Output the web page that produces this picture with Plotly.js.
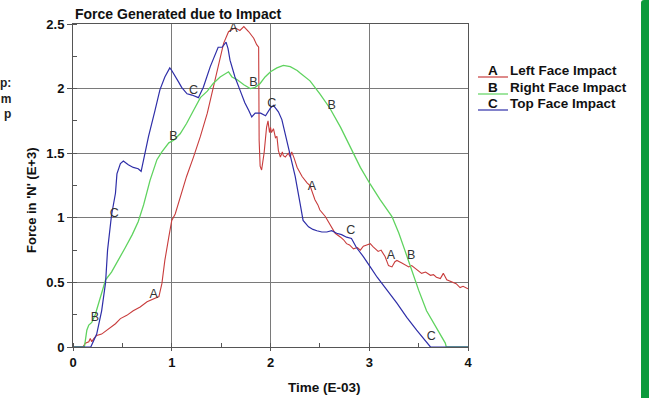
<!DOCTYPE html>
<html>
<head>
<meta charset="utf-8">
<script src="https://cdn.plot.ly/plotly-3.0.1.min.js"></script>
<style>
  html, body { margin: 0; padding: 0; background: #ffffff; }
  #wrap { position: relative; width: 649px; height: 398px; overflow: hidden; }
  #chart { width: 649px; height: 398px; }
  #bar { position: absolute; left: 641px; top: 0; width: 8px; height: 398px; background: #0b9a3c; border-top-left-radius: 3px; }
</style>
</head>
<body>
<div id="wrap"><div id="chart"></div><div id="bar"></div></div>
<script>
// ---- Data ----
const seriesNames = ["Left Face Impact", "Right Face Impact", "Top Face Impact"];
const seriesTags = ["A", "B", "C"];

// A: Left Face Impact (red)
const tA = [0, 0.10, 0.125, 0.16, 0.175, 0.19, 0.21, 0.24, 0.29, 0.345, 0.39, 0.43, 0.48, 0.545, 0.61, 0.68, 0.75, 0.83, 0.87, 0.90, 0.93, 0.97, 1.0, 1.035, 1.085, 1.15, 1.22, 1.29, 1.36, 1.42, 1.47, 1.525, 1.575, 1.64, 1.69, 1.73, 1.78, 1.83, 1.86, 1.88, 1.885, 1.895, 1.91, 1.935, 1.96, 1.975, 1.99, 2.0, 2.01, 2.03, 2.05, 2.065, 2.08, 2.10, 2.12, 2.13, 2.15, 2.18, 2.20, 2.215, 2.24, 2.27, 2.32, 2.37, 2.40, 2.42, 2.45, 2.48, 2.50, 2.555, 2.60, 2.63, 2.655, 2.71, 2.74, 2.77, 2.80, 2.84, 2.88, 2.91, 2.94, 2.975, 3.01, 3.04, 3.09, 3.12, 3.16, 3.195, 3.23, 3.26, 3.28, 3.33, 3.37, 3.40, 3.43, 3.465, 3.50, 3.53, 3.57, 3.62, 3.65, 3.68, 3.72, 3.75, 3.785, 3.82, 3.85, 3.88, 3.92, 3.95, 4.0];
const fA = [0, 0, 0.03, 0.04, 0.065, 0.04, 0.065, 0.09, 0.10, 0.13, 0.155, 0.18, 0.22, 0.245, 0.28, 0.31, 0.35, 0.375, 0.39, 0.49, 0.67, 0.85, 0.98, 1.03, 1.16, 1.32, 1.47, 1.63, 1.81, 2.01, 2.18, 2.35, 2.44, 2.47, 2.45, 2.48, 2.44, 2.39, 2.34, 2.32, 1.60, 1.40, 1.37, 1.50, 1.70, 1.75, 1.66, 1.70, 1.66, 1.69, 1.62, 1.63, 1.52, 1.47, 1.51, 1.48, 1.47, 1.50, 1.47, 1.51, 1.46, 1.39, 1.32, 1.27, 1.25, 1.21, 1.14, 1.10, 1.06, 1.01, 0.95, 0.92, 0.88, 0.85, 0.83, 0.80, 0.79, 0.76, 0.77, 0.75, 0.78, 0.79, 0.80, 0.775, 0.74, 0.75, 0.70, 0.63, 0.62, 0.66, 0.67, 0.65, 0.63, 0.62, 0.63, 0.61, 0.59, 0.57, 0.58, 0.555, 0.56, 0.54, 0.53, 0.57, 0.52, 0.51, 0.50, 0.49, 0.46, 0.47, 0.45];

// B: Right Face Impact (green)
const tB = [0, 0.115, 0.125, 0.14, 0.16, 0.19, 0.225, 0.26, 0.29, 0.33, 0.39, 0.46, 0.53, 0.60, 0.66, 0.715, 0.78, 0.85, 0.90, 0.97, 1.02, 1.085, 1.15, 1.22, 1.29, 1.36, 1.42, 1.49, 1.575, 1.61, 1.66, 1.73, 1.795, 1.845, 1.895, 1.945, 2.0, 2.065, 2.13, 2.2, 2.27, 2.30, 2.40, 2.50, 2.60, 2.71, 2.81, 2.91, 3.01, 3.11, 3.23, 3.30, 3.36, 3.43, 3.50, 3.58, 3.68, 3.77, 3.78, 4.0];
const fB = [0, 0, 0.05, 0.13, 0.17, 0.19, 0.25, 0.34, 0.43, 0.52, 0.58, 0.67, 0.77, 0.87, 0.97, 1.10, 1.29, 1.45, 1.51, 1.58, 1.60, 1.65, 1.73, 1.83, 1.93, 1.98, 2.04, 2.09, 2.13, 2.09, 2.07, 2.03, 2.00, 2.01, 2.04, 2.09, 2.13, 2.16, 2.18, 2.17, 2.14, 2.12, 2.06, 1.96, 1.85, 1.70, 1.55, 1.39, 1.26, 1.14, 1.01, 0.88, 0.75, 0.59, 0.44, 0.28, 0.15, 0.03, 0, 0];

// C: Top Face Impact (blue)
const tC = [0, 0.18, 0.24, 0.29, 0.33, 0.35, 0.39, 0.43, 0.445, 0.48, 0.51, 0.56, 0.61, 0.66, 0.69, 0.715, 0.765, 0.83, 0.88, 0.93, 0.98, 1.0, 1.035, 1.07, 1.10, 1.155, 1.205, 1.27, 1.32, 1.39, 1.47, 1.51, 1.55, 1.57, 1.59, 1.64, 1.69, 1.74, 1.78, 1.81, 1.845, 1.90, 1.95, 2.0, 2.03, 2.08, 2.115, 2.165, 2.215, 2.25, 2.30, 2.33, 2.385, 2.43, 2.47, 2.52, 2.57, 2.62, 2.67, 2.72, 2.77, 2.82, 2.87, 2.94, 3.01, 3.08, 3.18, 3.28, 3.38, 3.48, 3.62, 4.0];
const fC = [0, 0, 0.10, 0.28, 0.50, 0.75, 1.02, 1.19, 1.34, 1.42, 1.44, 1.41, 1.39, 1.38, 1.36, 1.45, 1.63, 1.83, 1.99, 2.09, 2.16, 2.14, 2.10, 2.05, 2.01, 1.96, 1.95, 1.93, 2.01, 2.17, 2.32, 2.32, 2.36, 2.31, 2.22, 2.09, 1.99, 1.89, 1.83, 1.78, 1.81, 1.81, 1.79, 1.85, 1.87, 1.82, 1.76, 1.60, 1.45, 1.32, 1.11, 0.98, 0.93, 0.91, 0.90, 0.89, 0.89, 0.90, 0.88, 0.87, 0.85, 0.84, 0.77, 0.70, 0.62, 0.54, 0.44, 0.34, 0.23, 0.13, 0, 0];

// Curve tag labels drawn on the lines
const labelText = ["A", "A", "A", "A", "B", "B", "B", "B", "B", "C", "C", "C", "C", "C"];
const labelT = [1.625, 0.816, 2.42, 3.22, 0.223, 1.018, 1.828, 2.62, 3.424, 0.418, 1.22, 2.014, 2.814, 3.627];
const labelF = [2.46, 0.40, 1.24, 0.705, 0.225, 1.627, 2.045, 1.87, 0.705, 1.033, 1.98, 1.885, 0.90, 0.077];

const xTickVals = [0, 1, 2, 3, 4];
const xTickText = ["0", "1", "2", "3", "4"];
const yTickVals = [0, 0.5, 1, 1.5, 2, 2.5];
const yTickText = ["0", "0.5", "1", "1.5", "2", "2.5"];

// ---- Styling ----
const colors = ["#c83c3c", "#5fd35f", "#2e2ea8"];
const FONT = "Liberation Sans, Arial, sans-serif";
const W = 649, H = 398;
const M = { l: 73, r: 649 - 468, t: 24, b: 398 - 347 };
const pw = W - M.l - M.r, ph = H - M.t - M.b;
const px2x = px => (px - M.l) / pw;
const py2y = py => (H - M.b - py) / ph;

const traces = [
  { x: tA, y: fA, name: seriesNames[0], mode: "lines", line: { color: colors[0], width: 1.1 } },
  { x: tB, y: fB, name: seriesNames[1], mode: "lines", line: { color: colors[1], width: 1.3 } },
  { x: tC, y: fC, name: seriesNames[2], mode: "lines", line: { color: colors[2], width: 1.2 } },
  { x: labelT, y: labelF, mode: "text", text: labelText, textposition: "middle center",
    textfont: { family: FONT, size: 12.5, color: "#333" }, hoverinfo: "skip", cliponaxis: false }
];

const annotations = [];
const shapes = [];
function ann(o) {
  annotations.push(Object.assign({ xref: "paper", yref: "paper", showarrow: false,
    xanchor: "center", yanchor: "middle" }, o));
}
// Title
ann({ x: px2x(73), y: py2y(14), xanchor: "left",
  text: "<b>Force Generated due to Impact</b>", font: { family: FONT, size: 14, color: "#111" } });
// Axis titles
ann({ x: px2x(31), y: py2y(200), textangle: -90,
  text: "<b>Force in 'N' (E+3)</b>", font: { family: FONT, size: 13, color: "#111" } });
ann({ x: px2x(324), y: py2y(388),
  text: "<b>Time (E-03)</b>", font: { family: FONT, size: 13.5, color: "#111" } });
// Cropped left-edge fragments
ann({ x: px2x(13), y: py2y(98), xanchor: "right", align: "right",
  text: "<b>p:<br>m<br>p</b>", font: { family: FONT, size: 12, color: "#222" } });
// Legend
const legY = [70, 87, 103];
for (let i = 0; i < 3; i++) {
  shapes.push({ type: "line", xref: "paper", yref: "paper", x0: px2x(478), x1: px2x(508),
    y0: py2y(legY[i] + 7), y1: py2y(legY[i] + 7), line: { color: colors[i], width: 1.2 } });
  ann({ x: px2x(493), y: py2y(legY[i]),
    text: "<b>" + seriesTags[i] + "</b>", font: { family: FONT, size: 13.5, color: "#111" } });
  ann({ x: px2x(508), y: py2y(legY[i]), xanchor: "left",
    text: "<b>" + seriesNames[i] + "</b>", font: { family: FONT, size: 13.5, color: "#111" } });
}

const axisCommon = {
  showline: true, linecolor: "#555", linewidth: 1, mirror: true,
  showgrid: true, gridcolor: "#7a7a7a", gridwidth: 1, zeroline: false,
  tickfont: { family: FONT, size: 13, color: "#111", weight: "bold" },
  ticks: "outside", ticklen: 5, tickcolor: "#555"
};

const layout = {
  width: W, height: H, margin: M,
  paper_bgcolor: "#ffffff", plot_bgcolor: "#ffffff",
  showlegend: false,
  xaxis: Object.assign({}, axisCommon, {
    range: [0, 4], tickmode: "array", tickvals: xTickVals, ticktext: xTickText, ticklen: 3,
    minor: { ticks: "inside", ticklen: 4, dtick: 0.5, tick0: 0, tickcolor: "#555", showgrid: false }
  }),
  yaxis: Object.assign({}, axisCommon, {
    range: [0, 2.5], tickmode: "array", tickvals: yTickVals, ticktext: yTickText,
    minor: { ticks: "inside", ticklen: 4, dtick: 0.25, tick0: 0, tickcolor: "#555", showgrid: false }
  }),
  annotations: annotations, shapes: shapes,
  font: { family: FONT }
};

Plotly.newPlot("chart", traces, layout, { staticPlot: true, displayModeBar: false });
</script>
</body>
</html>
